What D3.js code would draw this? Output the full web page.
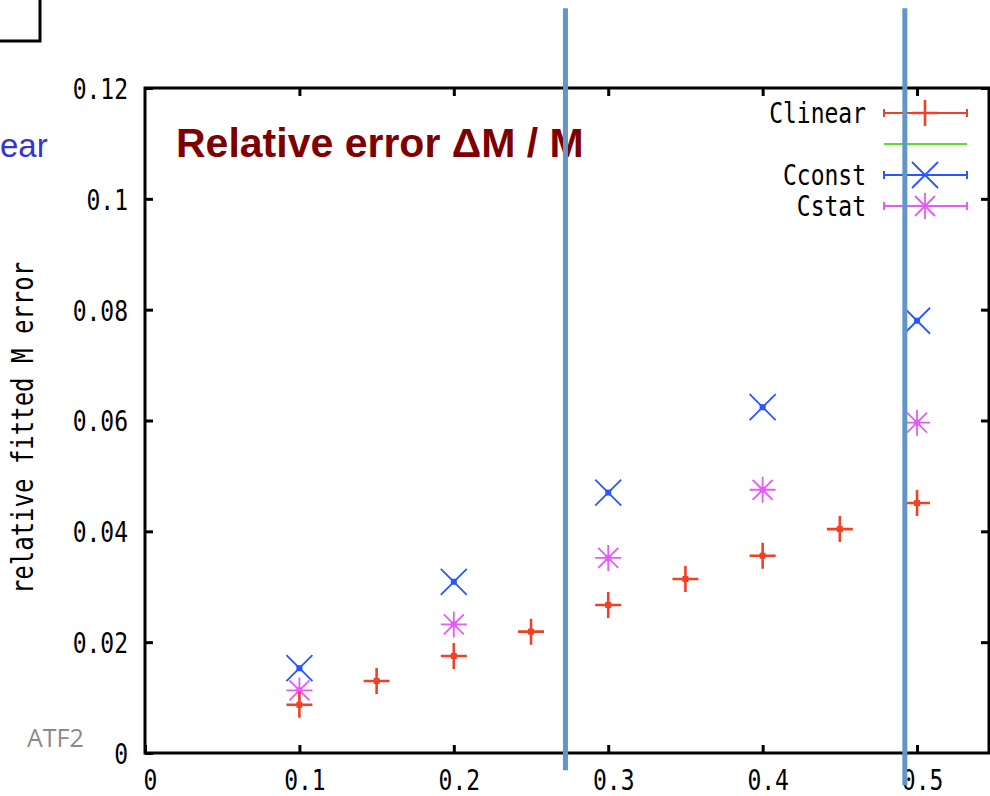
<!DOCTYPE html>
<html>
<head>
<meta charset="utf-8">
<script src="https://cdn.jsdelivr.net/npm/d3@7"></script>
<style>
body { margin: 0; background: #fff; }
svg { display: block; }
.mono { font-family: 'DejaVu Sans Mono', monospace; font-size: 23px; fill: #000; }
.tick text { font-family: 'DejaVu Sans Mono', monospace; font-size: 23px; fill: #000; }
.tick line { stroke: #000; stroke-width: 3; }
</style>
</head>
<body>
<svg width="990" height="796"></svg>
<script>
// values
var linearX = [0.1, 0.15, 0.2, 0.25, 0.3, 0.35, 0.4, 0.45, 0.5]
var clinear = [0.0087, 0.0130, 0.0175, 0.0219, 0.0267, 0.0314, 0.0356, 0.0404, 0.0451]
var pointX = [0.1, 0.2, 0.3, 0.4, 0.5]
var cconst = [0.0153, 0.0309, 0.0470, 0.0624, 0.0780]
var cstat = [0.0113, 0.0232, 0.0352, 0.0475, 0.0596]

var xTicks = [0, 0.1, 0.2, 0.3, 0.4, 0.5]
var xTickLabels = ['0', '0.1', '0.2', '0.3', '0.4', '0.5']
var yTicks = [0, 0.02, 0.04, 0.06, 0.08, 0.1, 0.12]
var yTickLabels = ['0', '0.02', '0.04', '0.06', '0.08', '0.1', '0.12']

var keyNames = ['Clinear', '', 'Cconst', 'Cstat']
var keyColors = ['#ee4125', '#5fdc2c', '#2b55ff', '#e55cf5']
var keyMarks = ['plus', 'none', 'cross', 'star']

// slide overlay: two marker lines in data units
var markX = [0.2723, 0.4921]
var markTop = 0.1344
var markBottom = [-0.0031, -0.0058]

var margin = {top: 88, right: 1, bottom: 43, left: 145}
var width = 990 - margin.left - margin.right
var height = 796 - margin.top - margin.bottom

var x = d3.scaleLinear().domain([0, 0.5466]).range([0, width])
var y = d3.scaleLinear().domain([0, 0.12]).range([height, 0])

var svg = d3.select('svg')

// bits of the slide around the plot
svg.append('path')
  .attr('d', 'M40,0V41H0')
  .attr('fill', 'none')
  .attr('stroke', '#000')
  .attr('stroke-width', 3)

svg.append('text')
  .attr('x', 0).attr('y', 157)
  .attr('font-family', 'Liberation Sans, Arial, sans-serif')
  .attr('font-size', 33)
  .attr('fill', '#3434d6')
  .text('ear')

svg.append('text')
  .attr('x', 27).attr('y', 747)
  .attr('font-family', 'Open Sans, sans-serif')
  .attr('font-size', 25)
  .attr('fill', '#8a8a8a')
  .text('ATF2')

var group = svg.append('g')
  .attr('transform', 'translate(' + margin.left + ',' + margin.top + ')')

group.append('rect')
  .attr('width', width)
  .attr('height', height)
  .attr('fill', 'none')
  .attr('stroke', '#000')
  .attr('stroke-width', 3)

group.append('g')
  .attr('transform', 'translate(0,' + height + ')')
  .call(d3.axisBottom(x).tickValues(xTicks).tickSize(-8)
    .tickFormat(function (d, i) { return xTickLabels[i] }))
  .call(function (g) { g.select('.domain').remove() })
  .selectAll('text')
  .attr('y', 31).attr('dy', null).attr('dx', 5)
  .attr('transform', 'scale(1,1.2)')

group.append('g')
  .call(d3.axisLeft(y).tickValues(yTicks).tickSize(-8).tickPadding(17)
    .tickFormat(function (d, i) { return yTickLabels[i] }))
  .call(function (g) { g.select('.domain').remove() })
  .selectAll('text')
  .attr('dy', '0.36em')
  .attr('transform', 'scale(1,1.25)')

group.append('g')
  .call(d3.axisTop(x).tickValues(xTicks.slice(1)).tickSize(-8).tickFormat(''))
  .call(function (g) { g.select('.domain').remove() })

group.append('g')
  .attr('transform', 'translate(' + width + ',0)')
  .call(d3.axisRight(y).tickValues(yTicks.slice(1)).tickSize(-8).tickFormat(''))
  .call(function (g) { g.select('.domain').remove() })

svg.append('text')
  .attr('class', 'mono')
  .style('font-size', '24px')
  .attr('transform', 'translate(33,428) rotate(-90) scale(1,1.25)')
  .attr('text-anchor', 'middle')
  .text('relative fitted M error')

// marker shapes
var shapes = {
  plus: 'M-13,0H13M0,-13V13',
  cross: 'M-13,-13L13,13M-13,13L13,-13',
  star: 'M-13,0H13M0,-13V13M-10,-10L10,10M-10,10L10,-10',
  none: ''
}
var widths = {plus: 2.6, cross: 1.8, star: 1.8, none: 0}

function drawSeries(xs, vals, k) {
  var pts = group.append('g')
    .selectAll('g')
    .data(d3.zip(xs, vals))
    .enter()
    .append('g')
    .attr('transform', function (d) {
      return 'translate(' + x(d[0]) + ',' + y(d[1]) + ')'
    })
  pts.append('path')
    .attr('d', shapes[keyMarks[k]])
    .attr('fill', 'none')
    .attr('stroke', keyColors[k])
    .attr('stroke-width', widths[keyMarks[k]])
  pts.append('rect')
    .attr('x', -3).attr('y', -3).attr('width', 6).attr('height', 6)
    .attr('fill', keyColors[k])
}

drawSeries(pointX, cconst, 2)
drawSeries(pointX, cstat, 3)
drawSeries(linearX, clinear, 0)

svg.append('text')
  .attr('x', 176).attr('y', 157)
  .attr('font-family', 'Liberation Sans, Arial, sans-serif')
  .attr('font-weight', 'bold')
  .attr('font-size', 41)
  .attr('fill', '#7f0000')
  .text('Relative error \u0394M / M')

// key, top right inside the frame
var key = svg.append('g')
  .selectAll('g')
  .data(keyNames)
  .enter()
  .append('g')
  .attr('transform', function (d, i) { return 'translate(0,' + (113 + i * 31) + ')' })

key.append('text')
  .attr('class', 'mono')
  .attr('transform', 'translate(866,0) scale(1,1.25)')
  .attr('text-anchor', 'end')
  .attr('dy', '0.36em')
  .text(function (d) { return d })

key.append('path')
  .attr('d', function (d, i) {
    var caps = keyMarks[i] === 'none' ? '' : 'M884,-4V4M967,-4V4'
    return 'M884,0H967' + caps
  })
  .attr('fill', 'none')
  .attr('stroke', function (d, i) { return keyColors[i] })
  .attr('stroke-width', 2)

key.append('path')
  .attr('transform', 'translate(925,0)')
  .attr('d', function (d, i) { return shapes[keyMarks[i]] })
  .attr('fill', 'none')
  .attr('stroke', function (d, i) { return keyColors[i] })
  .attr('stroke-width', function (d, i) { return widths[keyMarks[i]] })

// blue overlay lines drawn on top of everything
svg.append('g')
  .attr('transform', 'translate(' + margin.left + ',' + margin.top + ')')
  .selectAll('line')
  .data(markX)
  .enter()
  .append('line')
  .attr('x1', function (d) { return x(d) })
  .attr('x2', function (d) { return x(d) })
  .attr('y1', y(markTop))
  .attr('y2', function (d, i) { return y(markBottom[i]) })
  .attr('stroke', '#6196c9')
  .attr('stroke-width', 5)
</script>
</body>
</html>
